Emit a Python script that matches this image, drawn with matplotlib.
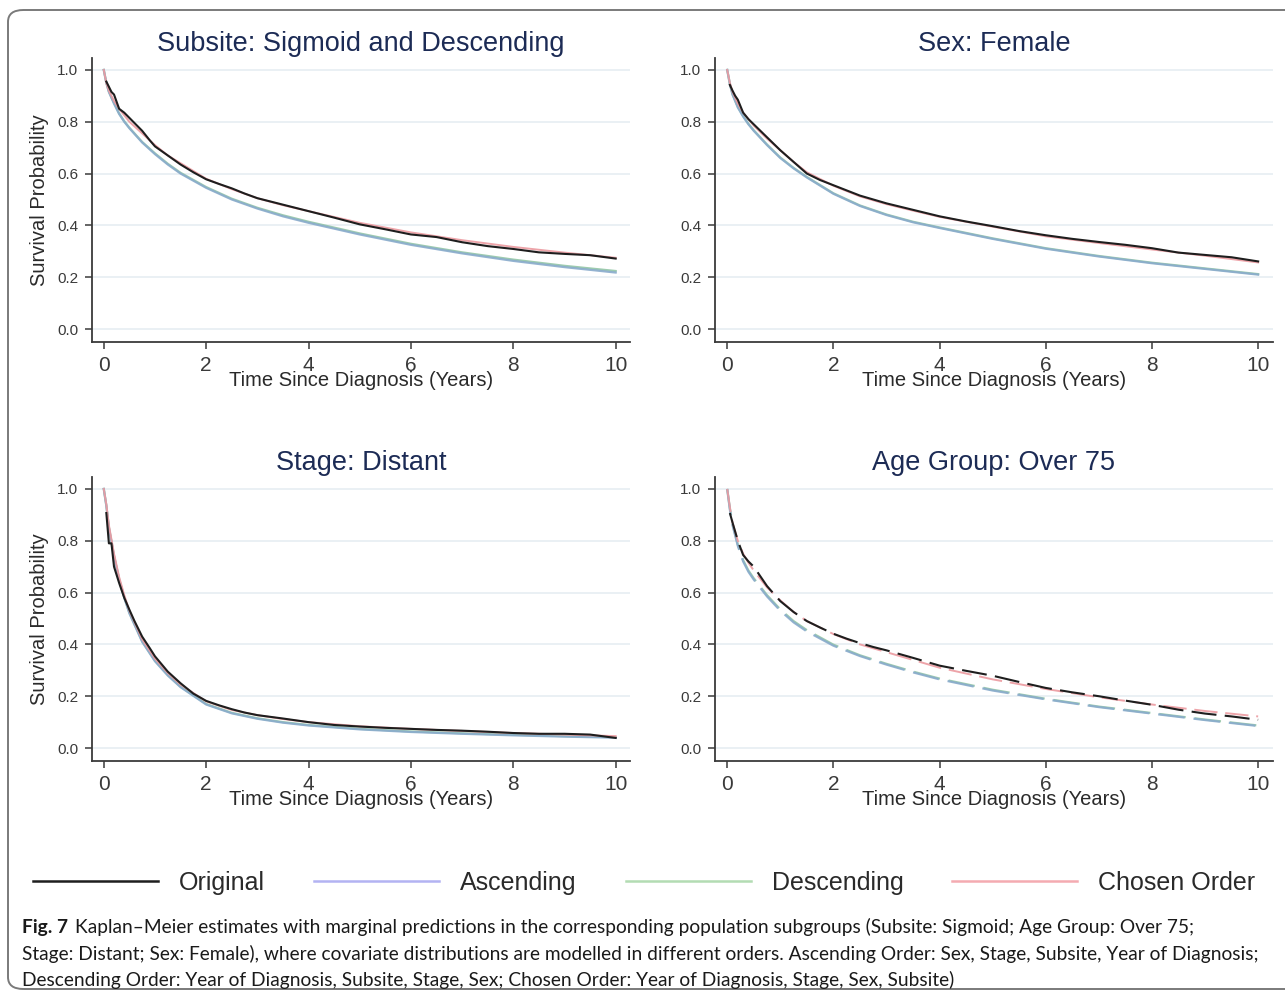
import numpy as np
import matplotlib.pyplot as plt
from matplotlib.lines import Line2D
from matplotlib.patches import FancyBboxPatch

plt.rcParams['font.family'] = ['Liberation Sans', 'DejaVu Sans']

# time points for the Kaplan-Meier (original) curves and for the predictions
km_t = [0.05, 0.1, 0.15, 0.2, 0.3, 0.4, 0.5, 0.6, 0.75, 0.9, 1.0, 1.25, 1.5, 1.75,
        2.0, 2.25, 2.5, 2.75, 3.0, 3.5, 4.0, 4.5, 5.0, 5.5, 6.0, 6.5, 7.0, 7.5,
        8.0, 8.5, 9.0, 9.5, 10.0]
pred_t = [0, 0.05, 0.1, 0.2, 0.3, 0.4, 0.5, 0.75, 1, 1.25, 1.5, 2, 2.5, 3, 3.5,
          4, 5, 6, 7, 8, 9, 10]

titles = ["Subsite: Sigmoid and Descending", "Sex: Female",
          "Stage: Distant", "Age Group: Over 75"]

# Subsite: Sigmoid and Descending
sub_orig = [0.955, 0.935, 0.915, 0.905, 0.85, 0.835, 0.815, 0.795, 0.765, 0.728, 0.705,
            0.67, 0.635, 0.605, 0.578, 0.56, 0.543, 0.523, 0.505, 0.48, 0.455, 0.43,
            0.404, 0.385, 0.365, 0.355, 0.335, 0.32, 0.309, 0.296, 0.29, 0.285, 0.272]
sub_asc = [1.0, 0.95, 0.915, 0.87, 0.83, 0.80, 0.775, 0.72, 0.675, 0.635, 0.60, 0.545,
           0.50, 0.465, 0.435, 0.41, 0.365, 0.325, 0.292, 0.263, 0.239, 0.218]
sub_desc = [1.0, 0.95, 0.916, 0.872, 0.832, 0.802, 0.777, 0.722, 0.678, 0.638, 0.603,
            0.548, 0.503, 0.468, 0.439, 0.414, 0.369, 0.329, 0.296, 0.268, 0.244, 0.224]
sub_chosen = [1.0, 0.95, 0.92, 0.88, 0.85, 0.825, 0.80, 0.755, 0.71, 0.67, 0.64, 0.58,
              0.54, 0.505, 0.478, 0.455, 0.41, 0.373, 0.343, 0.317, 0.295, 0.275]

# Sex: Female
sex_orig = [0.942, 0.92, 0.90, 0.885, 0.835, 0.81, 0.79, 0.77, 0.74, 0.71, 0.69, 0.645,
            0.60, 0.575, 0.555, 0.535, 0.515, 0.50, 0.485, 0.46, 0.435, 0.415, 0.397,
            0.378, 0.362, 0.348, 0.336, 0.325, 0.312, 0.295, 0.286, 0.277, 0.261]
sex_asc = [1.0, 0.945, 0.905, 0.855, 0.82, 0.79, 0.765, 0.71, 0.66, 0.62, 0.585, 0.522,
           0.475, 0.44, 0.412, 0.39, 0.348, 0.31, 0.28, 0.254, 0.232, 0.21]
sex_desc = [1.0, 0.946, 0.906, 0.857, 0.822, 0.792, 0.767, 0.712, 0.662, 0.622, 0.587,
            0.524, 0.477, 0.442, 0.414, 0.392, 0.35, 0.312, 0.282, 0.256, 0.234, 0.212]
sex_chosen = [1.0, 0.95, 0.915, 0.87, 0.835, 0.81, 0.785, 0.735, 0.69, 0.645, 0.605,
              0.553, 0.512, 0.482, 0.457, 0.433, 0.395, 0.358, 0.332, 0.307, 0.283, 0.257]

# Stage: Distant
stg_orig = [0.907, 0.79, 0.79, 0.70, 0.637, 0.58, 0.534, 0.49, 0.43, 0.385, 0.354,
            0.295, 0.25, 0.21, 0.182, 0.165, 0.15, 0.137, 0.127, 0.114, 0.100, 0.089,
            0.083, 0.078, 0.074, 0.070, 0.067, 0.063, 0.058, 0.055, 0.055, 0.052, 0.039]
stg_asc = [1.0, 0.935, 0.85, 0.74, 0.65, 0.58, 0.52, 0.41, 0.335, 0.28, 0.235, 0.168,
           0.134, 0.113, 0.098, 0.087, 0.072, 0.062, 0.055, 0.049, 0.044, 0.04]
stg_desc = [1.0, 0.936, 0.852, 0.742, 0.652, 0.582, 0.522, 0.412, 0.337, 0.282, 0.237,
            0.17, 0.136, 0.115, 0.1, 0.089, 0.074, 0.064, 0.057, 0.051, 0.046, 0.042]
stg_chosen = [1.0, 0.94, 0.86, 0.75, 0.66, 0.59, 0.53, 0.42, 0.345, 0.29, 0.245, 0.18,
              0.147, 0.127, 0.112, 0.10, 0.084, 0.074, 0.066, 0.058, 0.052, 0.046]

# Age Group: Over 75
age_orig = [0.907, 0.87, 0.835, 0.80, 0.745, 0.72, 0.70, 0.67, 0.625, 0.59, 0.567,
            0.525, 0.49, 0.465, 0.441, 0.422, 0.405, 0.39, 0.377, 0.348, 0.318, 0.298,
            0.279, 0.255, 0.232, 0.215, 0.200, 0.183, 0.167, 0.148, 0.133, 0.122, 0.109]
age_asc = [1.0, 0.92, 0.86, 0.78, 0.72, 0.68, 0.65, 0.585, 0.53, 0.485, 0.45, 0.395,
           0.355, 0.322, 0.292, 0.265, 0.222, 0.188, 0.158, 0.133, 0.108, 0.085]
age_desc = [1.0, 0.925, 0.865, 0.785, 0.725, 0.685, 0.655, 0.59, 0.535, 0.49, 0.455,
            0.399, 0.358, 0.325, 0.295, 0.268, 0.225, 0.19, 0.16, 0.135, 0.11, 0.087]
age_chosen = [1.0, 0.93, 0.87, 0.80, 0.75, 0.715, 0.685, 0.62, 0.57, 0.525, 0.49, 0.44,
              0.40, 0.37, 0.34, 0.31, 0.265, 0.228, 0.196, 0.168, 0.143, 0.122]

panels = [
    (sub_orig, sub_asc, sub_desc, sub_chosen),
    (sex_orig, sex_asc, sex_desc, sex_chosen),
    (stg_orig, stg_asc, stg_desc, stg_chosen),
    (age_orig, age_asc, age_desc, age_chosen),
]

W, H = 1285, 991
fig = plt.figure(figsize=(W / 100, H / 100), dpi=100)

# rounded frame around the whole figure
frame = FancyBboxPatch((8 / W, 1 - 989 / H), 1.2, (989 - 10) / H,
                       boxstyle="round,pad=0,rounding_size=0.012",
                       transform=fig.transFigure, fill=False,
                       edgecolor='#7a7a7a', linewidth=1.4)
fig.patches.append(frame)

# axes boxes in pixels: left, top, right, bottom
boxes = [(92, 58, 630, 342), (715, 58, 1273, 342),
         (92, 477, 630, 761), (715, 477, 1273, 761)]

title_col = '#1c2b55'
c_orig = '#1e1e1e'
c_asc = '#89abcc'
c_desc = '#93c6a6'
c_chosen = '#ec9aa0'

for i, (box, data) in enumerate(zip(boxes, panels)):
    l, t, r, b = box
    ax = fig.add_axes([l / W, 1 - b / H, (r - l) / W, (b - t) / H])
    orig, asc, desc, chosen = data
    ls = (0, (12, 4)) if i == 3 else '-'
    ax.plot(pred_t, desc, color=c_desc, lw=1.6, ls=ls, alpha=0.9)
    ax.plot(pred_t, asc, color=c_asc, lw=1.6, ls=ls, alpha=0.9)
    ax.plot(pred_t, chosen, color=c_chosen, lw=1.4, ls=ls, alpha=0.9)
    ax.plot(km_t, orig, color=c_orig, lw=1.5, ls=ls)

    ax.set_xlim(-0.23, 10.28)
    ax.set_ylim(-0.05, 1.046)
    ax.set_xticks([0, 2, 4, 6, 8, 10])
    ax.set_yticks([0.0, 0.2, 0.4, 0.6, 0.8, 1.0])
    ax.set_yticklabels(['0.0', '0.2', '0.4', '0.6', '0.8', '1.0'])
    ax.yaxis.grid(True, color='#e6eef2', lw=1.2)
    ax.set_axisbelow(True)
    for s in ['top', 'right']:
        ax.spines[s].set_visible(False)
    for s in ['left', 'bottom']:
        ax.spines[s].set_color('#3a3a3a')
        ax.spines[s].set_linewidth(1.3)
    ax.tick_params(axis='y', labelsize=11, colors='#3a3a3a', length=5, width=1.1, pad=5)
    ax.tick_params(axis='x', labelsize=15, colors='#3a3a3a', length=5, width=1.1, pad=5)
    ax.set_xlabel('Time Since Diagnosis (Years)', fontsize=14.5, color='#2a2a2a',
                  labelpad=-3)
    if i % 2 == 0:
        ax.set_ylabel('Survival Probability', fontsize=14.5, color='#2a2a2a', labelpad=6)
    ax.set_title(titles[i], fontsize=19.5, color=title_col, pad=5)

# legend
handles = [Line2D([], [], color='#1e1e1e', lw=1.8),
           Line2D([], [], color='#b3b3f2', lw=1.8),
           Line2D([], [], color='#b3dcb3', lw=1.8),
           Line2D([], [], color='#f4abb1', lw=1.8)]
labels = ['Original', 'Ascending', 'Descending', 'Chosen Order']
fig.legend(handles, labels, loc='center left', bbox_to_anchor=(33 / W, 1 - 883 / H),
           ncol=4, frameon=False, fontsize=18, handlelength=5.0, handletextpad=0.85,
           columnspacing=1.95, borderpad=0, borderaxespad=0,
           labelcolor='#2a2a2a')

# caption
cap_font = ['Lato', 'DejaVu Sans']
cap_size = 13.8
fig.text(22 / W, 1 - 927 / H, 'Fig. 7', fontsize=cap_size, fontweight='bold',
         family=cap_font, va='center', color='#1a1a1a')
fig.text(75 / W, 1 - 927 / H,
         'Kaplan\u2013Meier estimates with marginal predictions in the corresponding '
         'population subgroups (Subsite: Sigmoid; Age Group: Over 75;',
         fontsize=cap_size, family=cap_font, va='center', color='#1a1a1a')
fig.text(22 / W, 1 - 954 / H,
         'Stage: Distant; Sex: Female), where covariate distributions are modelled in '
         'different orders. Ascending Order: Sex, Stage, Subsite, Year of Diagnosis;',
         fontsize=cap_size, family=cap_font, va='center', color='#1a1a1a')
fig.text(22 / W, 1 - 980 / H,
         'Descending Order: Year of Diagnosis, Subsite, Stage, Sex; Chosen Order: '
         'Year of Diagnosis, Stage, Sex, Subsite)',
         fontsize=cap_size, family=cap_font, va='center', color='#1a1a1a')

fig.savefig('out.png', dpi=100)
